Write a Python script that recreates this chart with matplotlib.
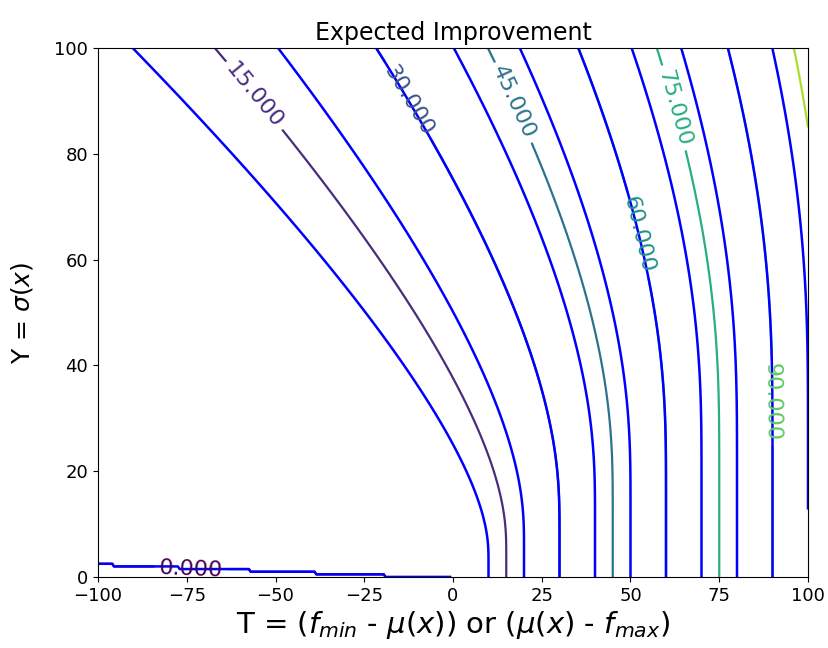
import math
import numpy as np
import matplotlib
matplotlib.use('Agg')
import matplotlib.pyplot as plt

# grid ranges of the improvement T and the std Y
T_range = [-100, 100]
Y_range = [0, 100]
step = 0.5

# contour levels
ei_levels = [0, 15, 30, 45, 60, 75, 90, 105, 120]
blue_levels = [0, 10, 20, 30, 40, 50, 60, 70, 80, 90, 100]

# where the level labels sit (T, Y)
label_pos = [(-74, 1.7), (-56, 91), (-13, 90), (18, 90), (54, 65), (64, 89), (92, 33)]

T = np.arange(T_range[0], T_range[1] + step, step)
Y = np.arange(Y_range[0], Y_range[1] + step, step)
TT, YY = np.meshgrid(T, Y)

erfc = np.vectorize(math.erfc)

def expected_improvement(t, y):
	with np.errstate(divide='ignore', invalid='ignore'):
		z = t / y
		cdf = 0.5 * erfc(-z / np.sqrt(2))
		pdf = np.exp(-0.5 * z ** 2) / np.sqrt(2 * np.pi)
		ei = t * cdf + y * pdf
	return ei

EI = expected_improvement(TT, YY)

fig = plt.figure(figsize=(8.29, 6.48), dpi=100)
ax = fig.add_axes([98 / 829, 1 - 577 / 648, 710 / 829, 529 / 648])

cs = ax.contour(TT, YY, EI, levels=ei_levels, cmap='viridis', linewidths=1.6)
ax.clabel(cs, fmt='%1.3f', fontsize=16, manual=label_pos)
ax.contour(TT, YY, EI, levels=blue_levels, colors='blue', linewidths=1.8)

ax.set_title('Expected Improvement', fontsize=17)
ax.set_xlabel(r'T = ($f_{min}$ - $\mu(x)$) or ($\mu(x)$ - $f_{max}$)', fontsize=21, labelpad=3)
ax.set_ylabel(r'Y = $\sigma(x)$', fontsize=18, labelpad=14)
ax.tick_params(labelsize=13)
ax.set_xlim(-100, 100)
ax.set_ylim(0, 100)

plt.savefig('out.png', dpi=100)
